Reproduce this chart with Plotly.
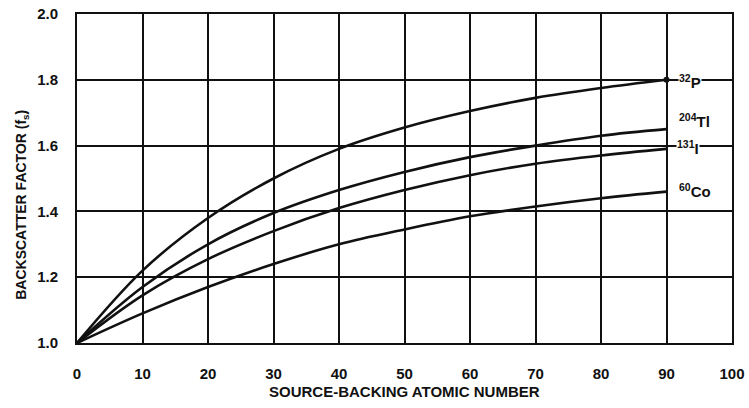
import plotly.graph_objects as go

atomic_number = [0, 10, 20, 30, 40, 50, 60, 70, 80, 90]
p32 = [1.00, 1.22, 1.38, 1.50, 1.59, 1.655, 1.705, 1.745, 1.775, 1.80]
tl204 = [1.00, 1.17, 1.30, 1.395, 1.465, 1.52, 1.565, 1.60, 1.63, 1.65]
i131 = [1.00, 1.145, 1.255, 1.34, 1.41, 1.465, 1.51, 1.545, 1.57, 1.59]
co60 = [1.00, 1.09, 1.17, 1.24, 1.30, 1.345, 1.385, 1.415, 1.44, 1.46]

x_ticks = [0, 10, 20, 30, 40, 50, 60, 70, 80, 90, 100]
y_ticks = [1.0, 1.2, 1.4, 1.6, 1.8, 2.0]

series = [
    ("<sup>32</sup>P", p32, 93.6, 1.795, True),
    ("<sup>204</sup>Tl", tl204, 94.3, 1.675, False),
    ("<sup>131</sup>I", i131, 93.3, 1.595, True),
    ("<sup>60</sup>Co", co60, 94.4, 1.465, False),
]

fig = go.Figure()
font_family = "Liberation Sans, Arial, sans-serif"

for name, ys, lx, ly, bg in series:
    fig.add_trace(go.Scatter(
        x=atomic_number, y=ys, mode="lines",
        line=dict(color="#111111", width=2.6, shape="spline", smoothing=1.0),
        showlegend=False, hoverinfo="skip",
    ))
    fig.add_annotation(
        x=lx, y=ly, text="<b>" + name + "</b>", showarrow=False,
        font=dict(family=font_family, size=15, color="#111111"),
        bgcolor="white" if bg else "rgba(0,0,0,0)", borderpad=0,
    )

fig.add_trace(go.Scatter(
    x=[atomic_number[-1]], y=[p32[-1]], mode="markers",
    marker=dict(color="#111111", size=6), showlegend=False, hoverinfo="skip",
))

axis_common = dict(
    showgrid=True, gridcolor="#111111", gridwidth=2,
    showline=True, linecolor="#111111", linewidth=2, mirror=True,
    zeroline=False, ticks="", automargin=False,
    tickfont=dict(family=font_family, size=15, color="#111111", weight="bold"),
)

fig.update_xaxes(
    range=[0, 100], tickvals=x_ticks, ticktext=[str(v) for v in x_ticks],
    ticklabelstandoff=16, **axis_common,
)
fig.update_yaxes(
    range=[1.0, 2.0], tickvals=y_ticks, ticktext=[f"{v:.1f}" for v in y_ticks],
    ticklabelstandoff=14, **axis_common,
)

fig.add_annotation(
    xref="paper", yref="paper", x=0.5, y=-0.148, yanchor="middle",
    text="<b>SOURCE-BACKING ATOMIC NUMBER</b>", showarrow=False,
    font=dict(family=font_family, size=15, color="#111111"),
)
fig.add_annotation(
    xref="paper", yref="paper", x=-0.084, y=0.42, xanchor="center",
    text="<b>BACKSCATTER FACTOR (f<sub>s</sub>)</b>", showarrow=False, textangle=-90,
    font=dict(family=font_family, size=14, color="#111111"),
)

fig.update_layout(
    width=749, height=408,
    margin=dict(l=77, r=17, t=14, b=65),
    paper_bgcolor="white", plot_bgcolor="white",
)

# remove the default 8px page margin so the figure fills the window exactly
fig.write_html(
    "out.html",
    config={"displayModeBar": False},
    post_script="document.body.style.margin='0';",
)
